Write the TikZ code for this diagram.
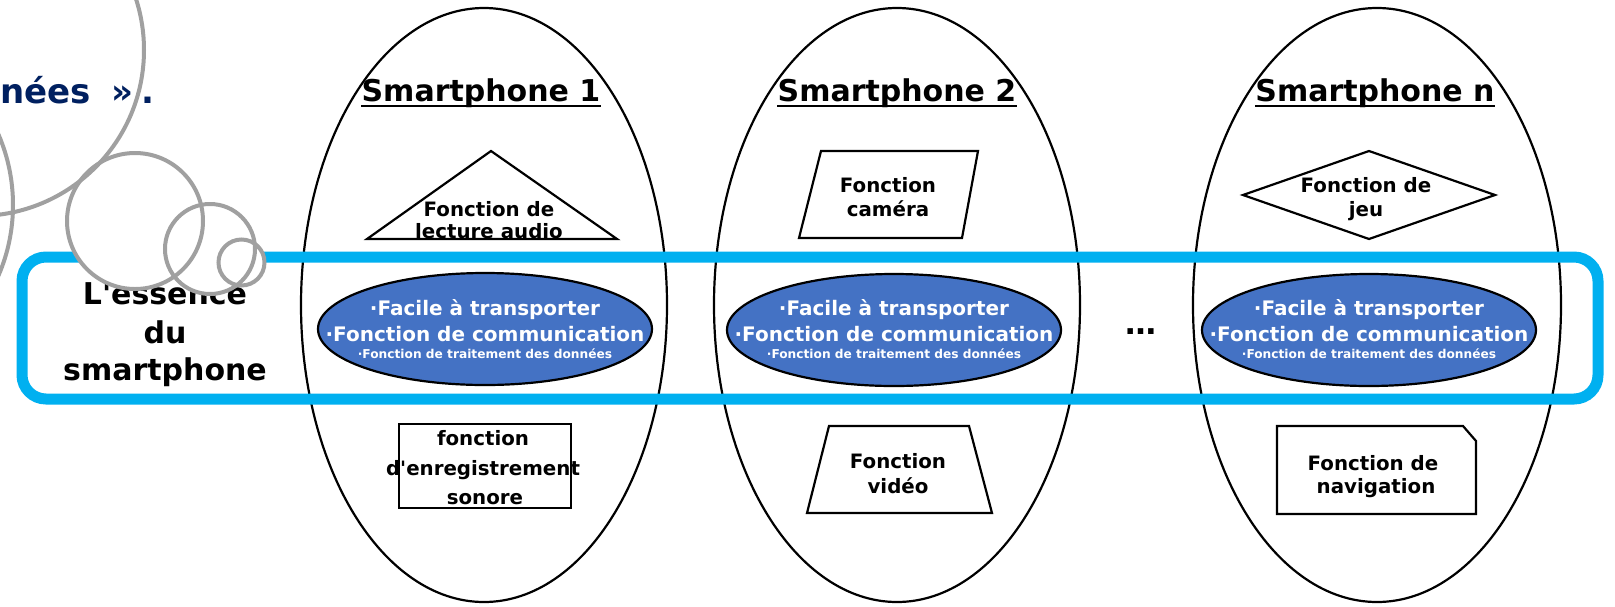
\documentclass[tikz,border=0pt]{standalone}
\usepackage{fontspec}
\setmainfont{DejaVu Sans}
\definecolor{frameblue}{HTML}{00B0F0}
\definecolor{corefill}{HTML}{4472C4}
\definecolor{bubble}{HTML}{A0A0A0}
\definecolor{navy}{HTML}{002060}
\begin{document}
\begin{tikzpicture}[x=1pt,y=-1pt,
  outer/.style={draw=black,line width=2.2pt},
  shp/.style={draw=black,line width=2.2pt,line join=miter},
  core/.style={draw=black,line width=2.2pt,fill=corefill},
  lbl/.style={anchor=base,inner sep=0pt,font=\bfseries\fontsize{19.8}{23}\selectfont},
  ttl/.style={anchor=base,inner sep=0pt,font=\bfseries\fontsize{30}{36}\selectfont},
  uline/.style={draw=black,line width=2pt},
  cl1/.style={anchor=base,inner sep=0pt,text=white,font=\bfseries\fontsize{20}{24}\selectfont},
  cl3/.style={anchor=base,inner sep=0pt,text=white,font=\bfseries\fontsize{12.2}{14}\selectfont},
  bub/.style={draw=bubble,line width=4pt},
  bubfill/.style={fill=white},
]
\useasboundingbox (0,0) rectangle (1615,606);
\fill[white] (0,0) rectangle (1615,606);

% outer smartphone ellipses
\draw[outer] (484,305) ellipse [x radius=183pt, y radius=297pt];
\draw[outer] (897,305) ellipse [x radius=183pt, y radius=297pt];
\draw[outer] (1377,305) ellipse [x radius=184pt, y radius=297pt];

% blue frame
\draw[frameblue, line width=11pt, rounded corners=24pt] (22,257) rectangle (1598,399);

% core ellipses
\draw[core] (485,329) ellipse [x radius=167pt, y radius=56pt];
\draw[core] (894,330) ellipse [x radius=167pt, y radius=56pt];
\draw[core] (1369,330) ellipse [x radius=167pt, y radius=56pt];
\foreach \cx/\nm in {485/a,894/b,1369/c}{
  \node[cl1] (f\nm1) at (\cx,315) {·Facile à transporter};
  \node[cl1] (f\nm2) at (\cx,341) {·Fonction de communication};
  \node[cl3] (f\nm3) at (\cx,358) {·Fonction de traitement des données};
}
\node[anchor=base,inner sep=0pt,font=\bfseries\fontsize{31}{36}\selectfont] (dots) at (1141,334) {…};

% titles
\node[ttl] (t1) at (481,101) {Smartphone 1};
\node[ttl] (t2) at (897,101) {Smartphone 2};
\node[ttl] (t3) at (1375,101) {Smartphone n};
\foreach \t in {t1,t2,t3}{
  \draw[uline] ([yshift=-5pt]\t.base west) -- ([yshift=-5pt]\t.base east);
}

% function shapes
\draw[shp] (367,239) -- (491,151) -- (617,239) -- cycle;
\node[lbl] (a1) at (489,216) {Fonction de};
\node[lbl] (a2) at (489,238) {lecture audio};

\draw[shp] (821,151) -- (978,151) -- (962,238) -- (799,238) -- cycle;
\node[lbl] (b1) at (888,192) {Fonction};
\node[lbl] (b2) at (888,216) {caméra};

\draw[shp] (1243,195) -- (1369,151) -- (1495,195) -- (1369,239) -- cycle;
\node[lbl] (c1) at (1366,192) {Fonction de};
\node[lbl] (c2) at (1366,216) {jeu};

\draw[shp] (399,424) rectangle (571,508);
\node[lbl] (d1) at (483,445) {fonction};
\node[lbl] (d2) at (483,475) {d\textquotesingle enregistrement};
\node[lbl] (d3) at (485,504) {sonore};

\draw[shp] (829,426) -- (969,426) -- (992,513) -- (807,513) -- cycle;
\node[lbl] (e1) at (898,468) {Fonction};
\node[lbl] (e2) at (898,493) {vidéo};

\draw[shp] (1277,426) -- (1463,426) -- (1476,441) -- (1476,514) -- (1277,514) -- cycle;
\node[lbl] (g1) at (1373,470) {Fonction de};
\node[lbl] (g2) at (1376,493) {navigation};

% essence label
\node[ttl] (s1) at (165,304) {L\textquotesingle essence};
\node[ttl] (s2) at (165,343) {du};
\node[ttl] (s3) at (165,380) {smartphone};

% bubbles
\fill[bubfill] (135,221) circle [radius=68pt];
\fill[bubfill] (210,249) circle [radius=45pt];
\fill[bubfill] (241.5,262.5) circle [radius=23pt];
\node[anchor=base west,inner sep=0pt,text=navy,font=\bfseries\fontsize{34}{40}\selectfont] (head) at (0,103) {nées\hspace{0.62em}»\hspace{0.22em}.};
\draw[bub] (-22,50) circle [radius=166pt];
\draw[bub] (-165,205) circle [radius=178pt];
\draw[bub] (135,221) circle [radius=68pt];
\draw[bub] (210,249) circle [radius=45pt];
\draw[bub] (241.5,262.5) circle [radius=23pt];
\end{tikzpicture}
\end{document}
